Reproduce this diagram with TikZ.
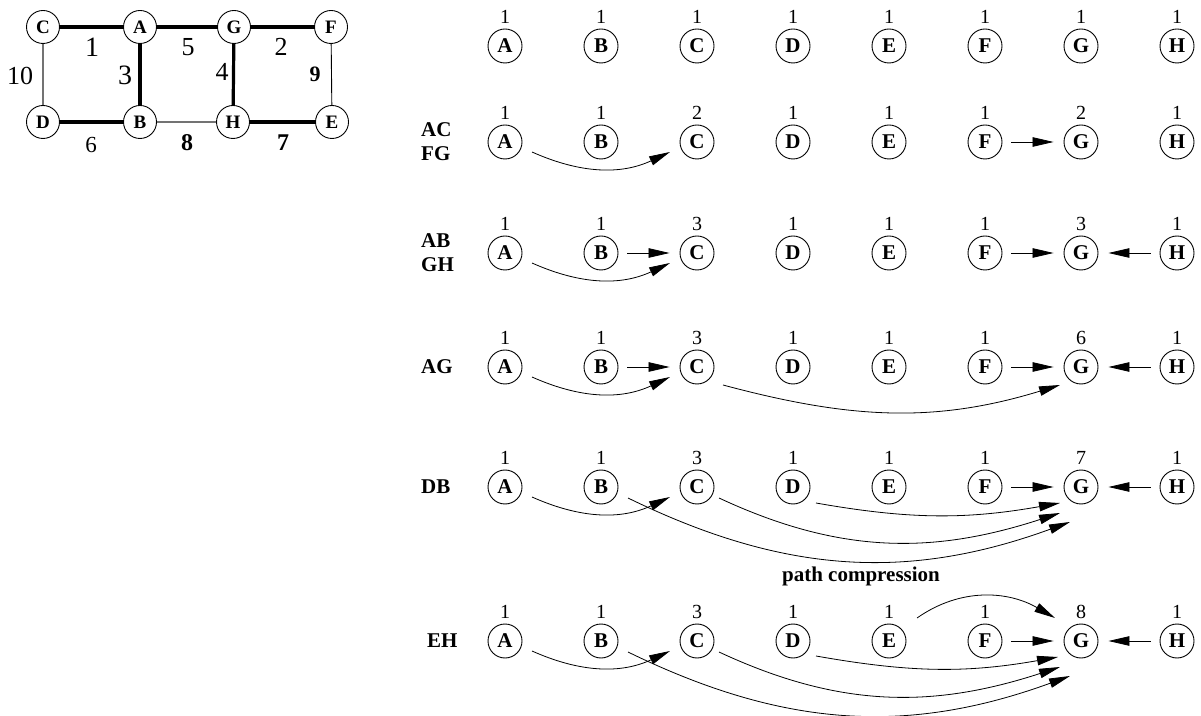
\documentclass[tikz,border=0pt]{standalone}
\usepackage{fontspec}
\setmainfont{Liberation Serif}
\usetikzlibrary{arrows.meta,calc}

\newcommand\unionrow[3]{%
  \foreach \l/\c [count=\i from 0] in {#3} {%
    \node[vtx] (\l#1) at (505+96*\i,#2) {\l};
    \node[cnt] (n\l#1) at ($(\l#1)+(0,29)$) {\c};
  }%
}

\begin{document}
\begin{tikzpicture}[x=1pt,y=1pt,
  vtx/.style={circle,draw,line width=0.9pt,minimum size=34pt,inner sep=0pt,
    font=\fontsize{21}{24}\selectfont\bfseries},
  gvtx/.style={circle,draw,line width=0.9pt,minimum size=33pt,inner sep=0pt,
    font=\fontsize{19}{22}\selectfont\bfseries},
  cnt/.style={inner sep=0pt,font=\fontsize{20}{24}\selectfont},
  rowlab/.style={inner sep=0pt,anchor=west,align=left,
    font=\fontsize{21}{24}\selectfont\bfseries},
  wt/.style={inner sep=0pt,font=\fontsize{#1}{#1}\selectfont},
  bwt/.style={inner sep=0pt,font=\fontsize{#1}{#1}\selectfont\bfseries},
  arr/.style={line width=0.8pt,-{Triangle[length=21pt,width=9.5pt]}},
  st/.style={arr,shorten <=9pt,shorten >=10pt},
  heavy/.style={line width=3.2pt},
  light/.style={line width=1.1pt,black!55},
  thin/.style={line width=0.9pt},
]
\useasboundingbox (0,0) rectangle (1201,715);

% ---- weighted graph ----
\node[gvtx] (gC) at (43,688) {C};
\node[gvtx] (gA) at (140,688) {A};
\node[gvtx] (gG) at (234,688) {G};
\node[gvtx] (gF) at (331,688) {F};
\node[gvtx] (gD) at (43,593) {D};
\node[gvtx] (gB) at (140,593) {B};
\node[gvtx] (gH) at (233,593) {H};
\node[gvtx] (gE) at (332,593) {E};

\draw[heavy] (gC) -- (gA);
\draw[heavy] (gA) -- (gG);
\draw[heavy] (gG) -- (gF);
\draw[heavy] (gA) -- (gB);
\draw[heavy] (gG) -- (gH);
\draw[heavy] (gD) -- (gB);
\draw[heavy] (gH) -- (gE);
\draw[light] (gC) -- (gD);
\draw[light] (gB) -- (gH);
\draw[thin] (gF) -- (gE);

\node[wt=28] (w1) at (92,668) {1};
\node[wt=26] (w5) at (188,668) {5};
\node[wt=26] (w2) at (281,668) {2};
\node[wt=28] (w3) at (125,640) {3};
\node[wt=26] (w4) at (222,643) {4};
\node[wt=26] (w10) at (20,639) {10};
\node[bwt=22] (w9) at (315,641) {9};
\node[wt=23] (w6) at (91,570) {6};
\node[bwt=24] (w8) at (187,572) {8};
\node[bwt=24] (w7) at (283,572) {7};

% ---- union-find forests ----
\unionrow{0}{669}{A/1,B/1,C/1,D/1,E/1,F/1,G/1,H/1}
\unionrow{1}{573}{A/1,B/1,C/2,D/1,E/1,F/1,G/2,H/1}
\unionrow{2}{462}{A/1,B/1,C/3,D/1,E/1,F/1,G/3,H/1}
\unionrow{3}{348}{A/1,B/1,C/3,D/1,E/1,F/1,G/6,H/1}
\unionrow{4}{228}{A/1,B/1,C/3,D/1,E/1,F/1,G/7,H/1}
\unionrow{5}{74}{A/1,B/1,C/3,D/1,E/1,F/1,G/8,H/1}

\node[rowlab] (r1) at (421,573) {AC\\FG};
\node[rowlab] (r2) at (421,462) {AB\\GH};
\node[rowlab] (r3) at (421,348) {AG};
\node[rowlab] (r4) at (421,228) {DB};
\node[rowlab] (r5) at (427,74) {EH};
\node[font=\fontsize{21}{24}\selectfont\bfseries,inner sep=0pt] (pc) at (861,139) {path compression};

% AC, FG
\draw[arr] ($(A1)+(27,-10)$) to[out=-24,in=-155] ($(C1)+(-27,-10)$);
\draw[st] (F1) -- (G1);

% AB, GH
\draw[arr] ($(A2)+(27,-10)$) to[out=-24,in=-155] ($(C2)+(-27,-10)$);
\draw[st] (B2) -- (C2);
\draw[st] (F2) -- (G2);
\draw[st] (H2) -- (G2);

% AG
\draw[arr] ($(A3)+(27,-10)$) to[out=-24,in=-155] ($(C3)+(-27,-10)$);
\draw[st] (B3) -- (C3);
\draw[arr] ($(C3)+(26,-18)$) to[out=-15,in=-163] ($(G3)+(-21,-18)$);
\draw[st] (F3) -- (G3);
\draw[st] (H3) -- (G3);

% DB
\draw[arr] ($(A4)+(27,-10)$) to[out=-24,in=-155] ($(C4)+(-27,-10)$);
\draw[arr] ($(B4)+(27,-11)$) to[out=-26,in=-160] ($(G4)+(-11,-35)$);
\draw[arr] ($(C4)+(22,-11)$) to[out=-25,in=-162] ($(G4)+(-21,-26)$);
\draw[arr] ($(D4)+(23,-16)$) to[out=-10,in=-170] ($(G4)+(-21,-16)$);
\draw[st] (F4) -- (G4);
\draw[st] (H4) -- (G4);

% EH
\draw[arr] ($(A5)+(27,-10)$) to[out=-24,in=-155] ($(C5)+(-27,-10)$);
\draw[arr] ($(B5)+(27,-11)$) to[out=-26,in=-160] ($(G5)+(-11,-35)$);
\draw[arr] ($(C5)+(22,-11)$) to[out=-25,in=-162] ($(G5)+(-21,-26)$);
\draw[arr] ($(D5)+(23,-15)$) to[out=-10,in=-170] ($(G5)+(-23,-16)$);
\draw[arr] ($(E5)+(28,23)$) to[out=35,in=150] ($(G5)+(-26,23)$);
\draw[st] (F5) -- (G5);
\draw[st] (H5) -- (G5);
\end{tikzpicture}
\end{document}
